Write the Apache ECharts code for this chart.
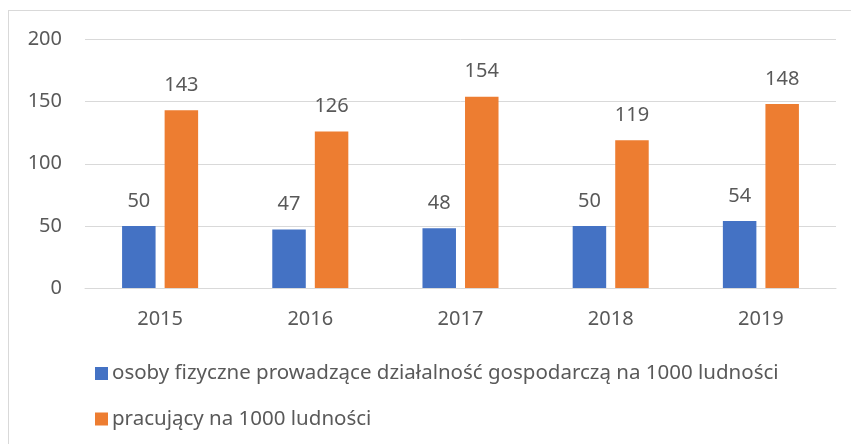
<!DOCTYPE html>
<html>
<head>
<meta charset="utf-8">
<script src="https://cdn.jsdelivr.net/npm/echarts@6/dist/echarts.min.js"></script>
<style>
html,body{margin:0;padding:0;background:#fff;}
#frame{position:absolute;left:8px;top:10px;width:900px;height:500px;border:1px solid #D9D9D9;box-sizing:border-box;}
#main{position:absolute;left:0;top:0;width:851px;height:444px;}
</style>
</head>
<body>
<div id="frame"></div>
<div id="main"></div>
<script>
const years = ['2015','2016','2017','2018','2019'];
const seriesNames = ['osoby fizyczne prowadzące działalność gospodarczą na 1000 ludności','pracujący na 1000 ludności'];
const osobyFizyczne = [50,47,48,50,54];
const pracujacy = [143,126,154,119,148];
const yTicks = [0,50,100,150,200];

const FONT = 'Noto Sans';
const TXT = '#595959';
const chart = echarts.init(document.getElementById('main'), null, {renderer:'canvas'});
chart.setOption({
  animation:false,
  backgroundColor:'transparent',
  textStyle:{fontFamily:FONT},
  grid:{left:85,right:15,top:39.5,bottom:156,containLabel:false},
  xAxis:{
    type:'category',data:years,
    axisLine:{show:true,lineStyle:{color:'#D9D9D9',width:1}},
    axisTick:{show:false},
    axisLabel:{color:TXT,fontSize:20,fontFamily:FONT,margin:21}
  },
  yAxis:{
    type:'value',min:yTicks[0],max:yTicks[yTicks.length-1],interval:50,
    axisLine:{show:false},axisTick:{show:false},
    splitLine:{lineStyle:{color:'#D9D9D9',width:1}},
    axisLabel:{color:TXT,fontSize:20,fontFamily:FONT,margin:23}
  },
  legend:{
    orient:'vertical',left:90,top:358,itemWidth:13,itemHeight:13,itemGap:24.5,
    icon:'rect',
    textStyle:{color:TXT,fontSize:20.5,fontFamily:FONT,padding:[0,0,0,-1]},
    data:seriesNames
  },
  series:[
    {name:seriesNames[0],type:'bar',data:osobyFizyczne,barWidth:33.5,barGap:'27%',
     itemStyle:{color:'#4472C4'},
     label:{show:true,position:'top',distance:15,color:TXT,fontSize:20,fontFamily:FONT}},
    {name:seriesNames[1],type:'bar',data:pracujacy,barWidth:33.5,barGap:'27%',
     itemStyle:{color:'#ED7D31'},
     label:{show:true,position:'top',distance:15,color:TXT,fontSize:20,fontFamily:FONT}}
  ]
});
</script>
</body>
</html>
